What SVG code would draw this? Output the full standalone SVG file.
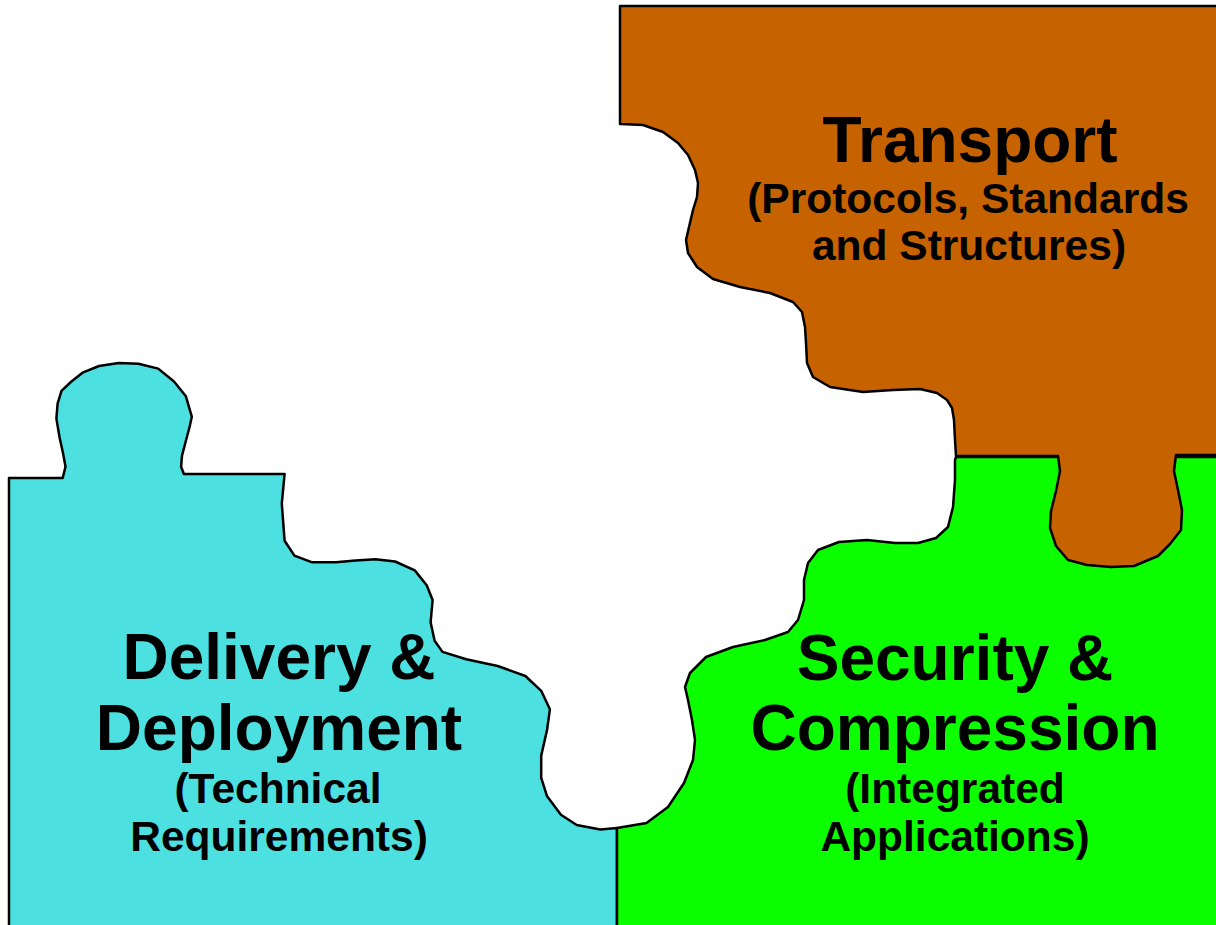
<svg xmlns="http://www.w3.org/2000/svg" width="1216" height="925" viewBox="0 0 1216 925">
<style>
.pc{stroke:#000;stroke-width:2.5;stroke-linejoin:round}
.t1{font-family:"Liberation Sans",Arial,sans-serif;font-weight:bold;font-size:64px;text-anchor:middle;fill:#000}
.t2{font-family:"Liberation Sans",Arial,sans-serif;font-weight:bold;font-size:42.5px;text-anchor:middle;fill:#000}
</style>
<rect width="1216" height="925" fill="#fff"/>
<g id="delivery">
<path class="pc" fill="#4DE0E0" d="M9,927 L9,478 L62.7,478 L65.5,466.7 L63.5,455.6 L59.5,437 L56.4,418.6 L57.6,403.7 L61.5,390.8 L71.4,381.5 L83.2,372.3 L99,366 L118.8,363 L138.5,363.7 L158.2,368.6 L174,381.5 L185.9,396.3 L191.8,416.7 L189.8,426 L185.9,440.8 L182,455.6 L181.1,466.7 L183.9,474 L284.6,474 L281.8,503.7 L284.6,540.8 L294.4,555.6 L312.2,562.3 L335.9,562.3 L355.6,560.4 L375.4,559.3 L395.1,561.5 L414.8,570.4 L426.7,585.2 L432.6,600 L430.6,622.3 L434.6,640.8 L442.5,651.9 L466.2,659.3 L497.7,666 L525.4,676 L541.2,690.8 L549.9,709.3 L547.1,729.7 L541.2,755.6 L541.2,777.8 L547.1,796.3 L560.9,814.8 L576.7,825 L600.4,829.5 L617,828 L617,927 Z"/>
<text class="t1" x="279" y="679">Delivery &amp;</text>
<text class="t1" x="279" y="750">Deployment</text>
<text class="t2" x="278" y="803">(Technical</text>
<text class="t2" x="279" y="851">Requirements)</text>
</g>
<g id="security">
<path class="pc" fill="#0BFF00" d="M617,927 L617,828 L646.5,823 L668,807 L684,783 L693,760 L695,740 L692,720 L688,700 L685,687 L690,673 L706,657 L733,647 L765,640 L788,632 L798,620 L804,600 L804,580 L808,563 L818,550 L839,542 L867,540 L895,543 L918,543 L936,538 L948,527 L953,507 L955,480 L955,460 L956,457 L1218,457 L1218,927 Z"/>
<text class="t1" x="955" y="680">Security &amp;</text>
<text class="t1" x="955" y="750">Compression</text>
<text class="t2" x="955" y="803">(Integrated</text>
<text class="t2" x="955" y="851">Applications)</text>
</g>
<g id="transport">
<path class="pc" fill="#C66300" d="M1218,6 L620,6 L620,124 L643,125 L663,132 L678,143 L688,155 L695,170 L698,183 L697,197 L693,210 L689,227 L686,240 L688,253 L697,267 L713,279 L740,287 L770,293 L793,302 L802,312 L805,327 L806,343 L807,363 L813,377 L830,387 L863,392 L893,390 L920,389 L937,393 L947,400 L952,408 L954,420 L955,440 L956,456 L1058,456 L1060,471 L1056,491 L1051,511 L1050,528 L1056,546 L1068,560 L1087,565 L1111,567 L1134,566 L1158,556 L1170,544 L1181,530 L1182,510 L1178,490 L1174,471 L1176,455 L1218,455 Z"/>
<text class="t1" x="970" y="162">Transport</text>
<text class="t2" x="968" y="213">(Protocols, Standards</text>
<text class="t2" x="969" y="260">and Structures)</text>
</g>
<g id="connectors"/>
</svg>
